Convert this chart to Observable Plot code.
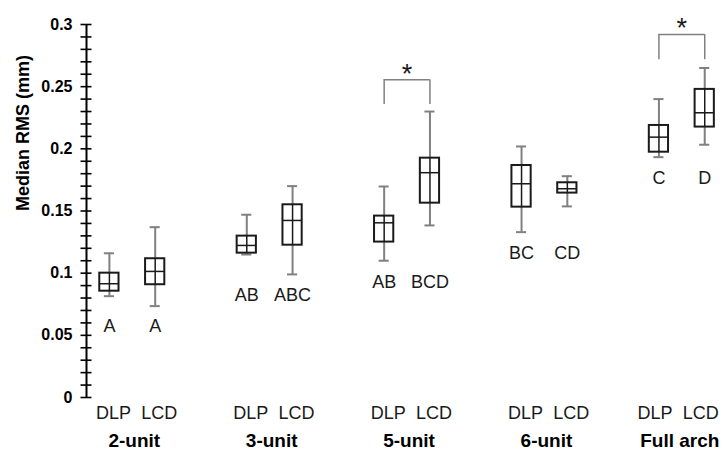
<!DOCTYPE html>
<html>
<head>
<meta charset="utf-8">
<script src="https://cdn.jsdelivr.net/npm/d3@7"></script>
<script src="https://cdn.jsdelivr.net/npm/@observablehq/plot@0.6"></script>
<style>
  html, body { margin: 0; padding: 0; background: white; }
</style>
</head>
<body>
<div id="chart"></div>
<script>
const groups = ["2-unit", "3-unit", "5-unit", "6-unit", "Full arch"];
const printers = ["DLP", "LCD"];
// order: 2-unit DLP, 2-unit LCD, 3-unit DLP, 3-unit LCD, ...
const whiskerLow  = [0.0815, 0.0735, 0.115, 0.099, 0.110, 0.1384, 0.133, 0.1537, 0.1933, 0.2033];
const q1          = [0.0855, 0.0907, 0.1161, 0.1225, 0.125, 0.1563, 0.1531, 0.1644, 0.1973, 0.2175];
const median      = [0.0915, 0.1014, 0.1223, 0.1424, 0.1405, 0.1808, 0.1719, 0.1679, 0.2094, 0.229];
const q3          = [0.100, 0.1116, 0.1298, 0.155, 0.1459, 0.1925, 0.1866, 0.1727, 0.2188, 0.2478];
const whiskerHigh = [0.116, 0.137, 0.147, 0.170, 0.1697, 0.230, 0.2019, 0.178, 0.240, 0.265];
const letters     = ["A", "A", "AB", "ABC", "AB", "BCD", "BC", "CD", "C", "D"];
const letterY     = [0.0571, 0.0571, 0.0825, 0.0825, 0.0928, 0.0928, 0.1161, 0.1161, 0.1766, 0.1766];
const sigGroups   = ["5-unit", "Full arch"];
const bracketTop  = [0.2556, 0.292];
const bracketLeg  = [0.2357, 0.2717];
const yTickLabels = [0, 0.05, 0.1, 0.15, 0.2, 0.25, 0.3];
const yMinorTicks = d3.range(0, 31).map(i => i / 100);
const yLabel = "Median RMS (mm)";

const rows = groups.flatMap((g, gi) => printers.map((p, pi) => {
  const i = gi * 2 + pi;
  return {group: g, printer: p, pos: 3 * gi + pi, lo: whiskerLow[i], q1: q1[i], med: median[i], q3: q3[i], hi: whiskerHigh[i], letter: letters[i], ly: letterY[i]};
}));
const groupRows = groups.map((g, gi) => ({group: g, pos: 3 * gi + 0.5}));
const sigRows = sigGroups.map((g, k) => {
  const gi = groups.indexOf(g);
  return {group: g, a: 3 * gi, b: 3 * gi + 1, top: bracketTop[k], leg: bracketLeg[k]};
});
const lastGroup = groups[groups.length - 1];

const xMin = -0.5;
const bw = 0.21, cw = 0.11, tk = 0.12;
const boxStroke = "#1a1a1a", whiskStroke = "#808080";

const chart = Plot.plot({
  width: 723,
  height: 455,
  marginLeft: 86,
  marginRight: 0,
  marginTop: 24,
  marginBottom: 58,
  x: {domain: [xMin, 13.41], axis: null},
  y: {domain: [0, 0.3]},
  style: {fontFamily: "'Liberation Sans', Arial, sans-serif", background: "white", overflow: "visible", color: "black"},
  marks: [
    // y axis line and ticks
    Plot.ruleX([xMin], {y1: 0, y2: 0.3, stroke: "black", strokeWidth: 2}),
    Plot.ruleY(yMinorTicks, {y: d => d, x1: xMin - tk, x2: xMin + tk, stroke: "black", strokeWidth: 1.6}),
    Plot.axisY({ticks: yTickLabels, tickSize: 0, tickPadding: 14, tickFormat: d3.format("~g"), fontSize: 16, fontWeight: "bold", label: null}),
    Plot.text([yLabel], {frameAnchor: "left", rotate: -90, dx: -63, fontSize: 18, fontWeight: "bold", fill: "black"}),
    // whiskers
    Plot.ruleX(rows, {x: "pos", y1: "lo", y2: "q1", stroke: whiskStroke, strokeWidth: 2}),
    Plot.ruleX(rows, {x: "pos", y1: "q3", y2: "hi", stroke: whiskStroke, strokeWidth: 2}),
    Plot.ruleY(rows, {y: "lo", x1: d => d.pos - cw, x2: d => d.pos + cw, stroke: whiskStroke, strokeWidth: 2}),
    Plot.ruleY(rows, {y: "hi", x1: d => d.pos - cw, x2: d => d.pos + cw, stroke: whiskStroke, strokeWidth: 2}),
    // boxes
    Plot.ruleX(rows, {x: "pos", y1: "q1", y2: "q3", stroke: boxStroke, strokeWidth: 1.5}),
    Plot.rect(rows, {x1: d => d.pos - bw, x2: d => d.pos + bw, y1: "q1", y2: "q3", fill: "none", stroke: boxStroke, strokeWidth: 2}),
    Plot.ruleY(rows, {y: "med", x1: d => d.pos - bw, x2: d => d.pos + bw, stroke: boxStroke, strokeWidth: 1.5}),
    // letters
    Plot.text(rows, {x: "pos", y: "ly", text: "letter", fontSize: 18, fill: "#1a1a1a"}),
    // significance brackets
    Plot.ruleY(sigRows, {y: "top", x1: "a", x2: "b", stroke: whiskStroke, strokeWidth: 1.5}),
    Plot.ruleX(sigRows, {x: "a", y1: "leg", y2: "top", stroke: whiskStroke, strokeWidth: 1.5}),
    Plot.ruleX(sigRows, {x: "b", y1: "leg", y2: "top", stroke: whiskStroke, strokeWidth: 1.5}),
    Plot.text(sigRows, {x: d => (d.a + d.b) / 2, y: "top", text: () => "*", fontSize: 27, lineAnchor: "bottom", dy: 3, fill: "#1a1a1a"}),
    // category labels
    Plot.text(rows.filter(d => d.group !== lastGroup), {x: "pos", frameAnchor: "bottom", text: "printer", dx: 4, dy: 21, fontSize: 18, fill: "#1a1a1a"}),
    Plot.text(rows.filter(d => d.group === lastGroup), {x: "pos", frameAnchor: "bottom", text: "printer", dx: -4, dy: 21, fontSize: 18, fill: "#1a1a1a"}),
    Plot.text(groupRows.filter(d => d.group !== lastGroup), {x: "pos", frameAnchor: "bottom", text: "group", dx: 2, dy: 49, fontSize: 19, fontWeight: "bold", fill: "black"}),
    Plot.text(groupRows.filter(d => d.group === lastGroup), {x: "pos", frameAnchor: "bottom", text: "group", dx: -2, dy: 49, fontSize: 19, fontWeight: "bold", fill: "black"})
  ]
});
document.getElementById("chart").appendChild(chart);
</script>
</body>
</html>
